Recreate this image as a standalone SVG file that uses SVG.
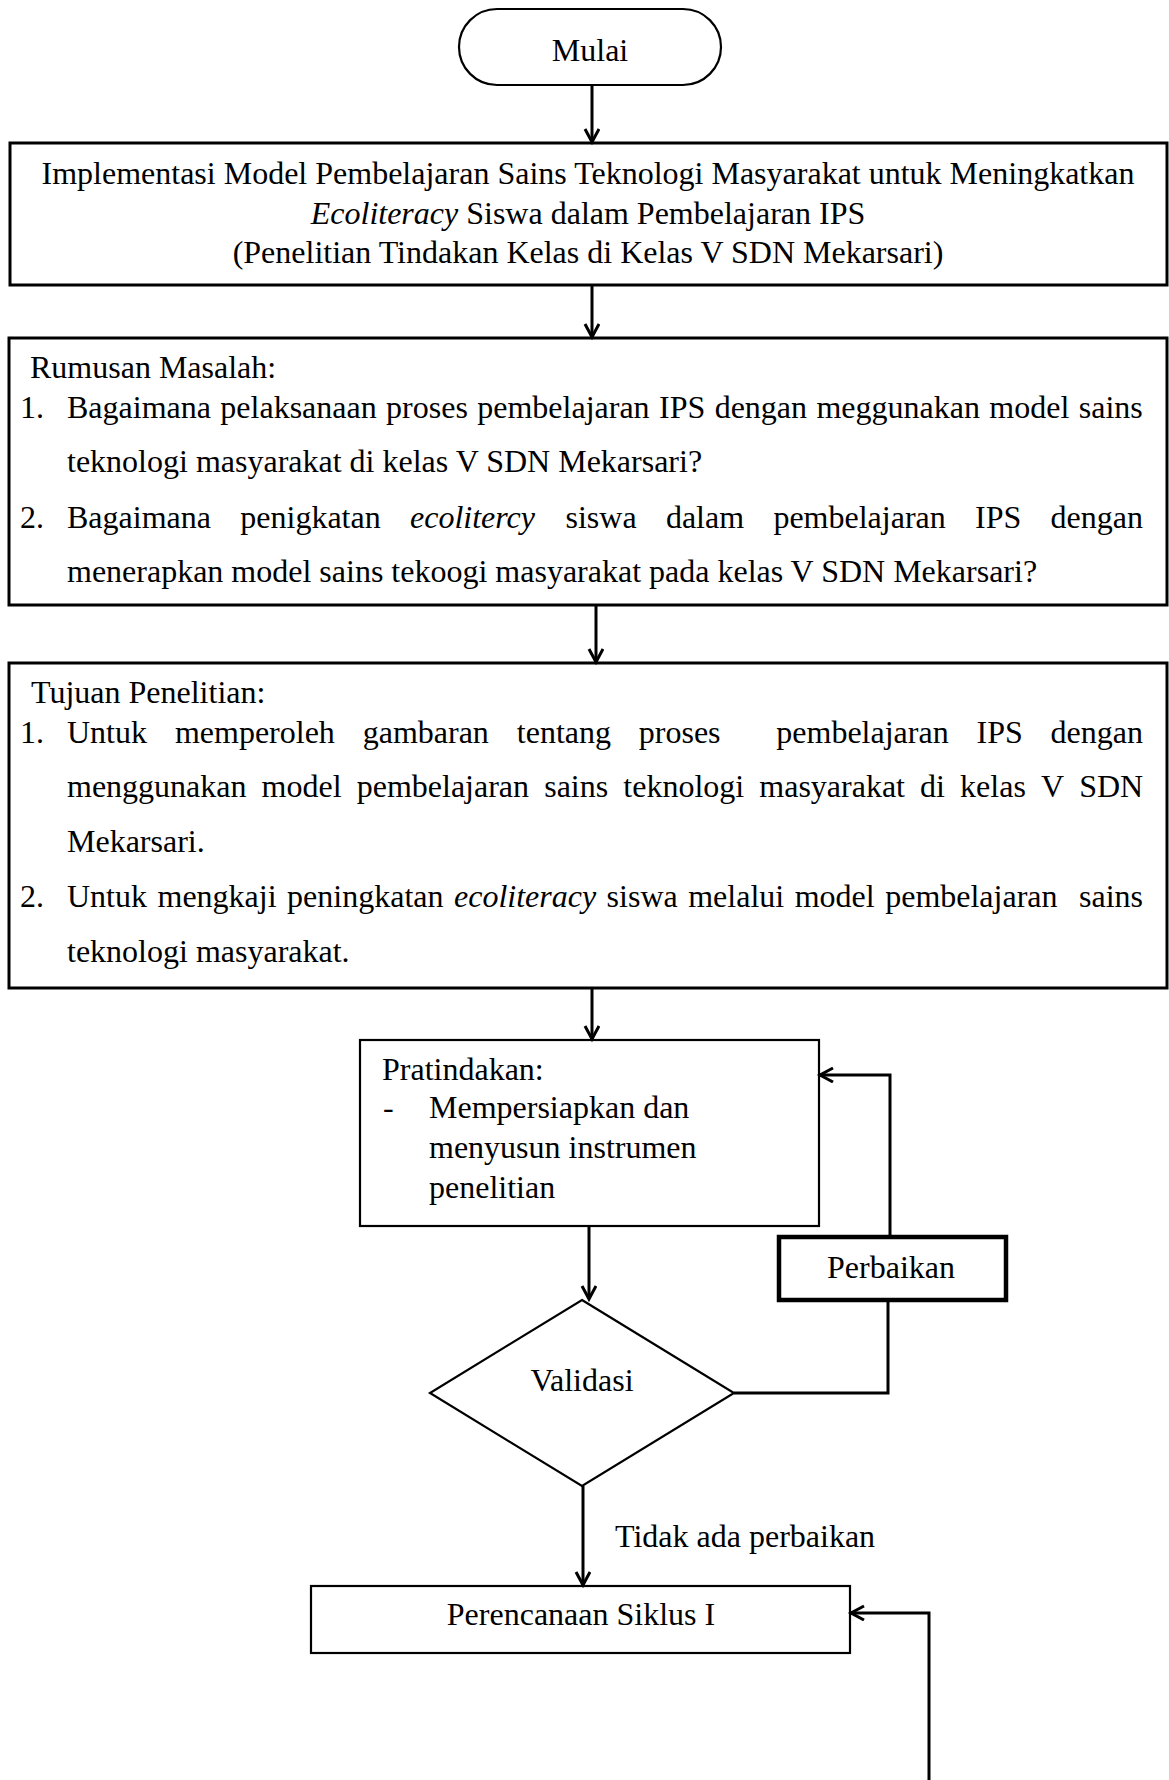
<svg xmlns="http://www.w3.org/2000/svg" width="1169" height="1780" viewBox="0 0 1169 1780">
<style>
text{font-family:"Liberation Serif","Times New Roman",serif;font-size:32px;fill:#000}
.c{text-anchor:middle}
.e{text-anchor:end}
.i{font-style:italic}
.box{fill:#fff;stroke:#000;stroke-width:3}
.thin{fill:#fff;stroke:#000;stroke-width:2.2}
.conn{fill:none;stroke:#000;stroke-width:3}
</style>
<defs>
<marker id="ah" markerUnits="userSpaceOnUse" markerWidth="20" markerHeight="20" refX="14" refY="8" orient="auto">
<path d="M1,1 L14,8 L1,15" fill="none" stroke="#000" stroke-width="3"/>
</marker>
</defs>
<rect width="1169" height="1780" fill="#fff"/>
<g id="mulai">
<rect class="thin" x="459" y="9" width="262" height="76" rx="38" ry="38"/>
<text class="c" x="590" y="61">Mulai</text>
</g>
<g id="judul">
<rect class="box" x="10" y="143" width="1157" height="142"/>
<text class="c" x="588" y="184">Implementasi Model Pembelajaran Sains Teknologi Masyarakat untuk Meningkatkan</text>
<text class="c" x="588" y="224"><tspan class="i">Ecoliteracy</tspan> Siswa dalam Pembelajaran IPS</text>
<text class="c" x="588" y="263">(Penelitian Tindakan Kelas di Kelas V SDN Mekarsari)</text>
</g>
<g id="rumusan">
<rect class="box" x="9" y="338" width="1158" height="267"/>
<text x="30" y="378">Rumusan Masalah:</text>
<text x="20" y="418">1.</text>
<text x="67" y="418" word-spacing="1.4">Bagaimana pelaksanaan proses pembelajaran IPS dengan meggunakan model sains</text>
<text x="67" y="472">teknologi masyarakat di kelas V SDN Mekarsari?</text>
<text x="20" y="528">2.</text>
<text y="528"><tspan x="67">Bagaimana</tspan><tspan x="240.3">penigkatan</tspan><tspan x="410" class="i">ecolitercy</tspan><tspan x="565.5">siswa</tspan><tspan x="665.9">dalam</tspan><tspan x="773.4">pembelajaran</tspan><tspan x="975.1">IPS</tspan><tspan x="1050.6">dengan</tspan></text>
<text x="67" y="582">menerapkan model sains tekoogi masyarakat pada kelas V SDN Mekarsari?</text>
</g>
<g id="tujuan">
<rect class="box" x="9" y="663" width="1158" height="325"/>
<text x="31" y="703">Tujuan Penelitian:</text>
<text x="20" y="743">1.</text>
<text y="743"><tspan x="67">Untuk</tspan><tspan x="174.9">memperoleh</tspan><tspan x="362.7">gambaran</tspan><tspan x="516.8">tentang</tspan><tspan x="638.8">proses</tspan><tspan x="776.3">pembelajaran</tspan><tspan x="976.6">IPS</tspan><tspan x="1050.6">dengan</tspan></text>
<text y="797"><tspan x="67">menggunakan</tspan><tspan x="261.6">model</tspan><tspan x="356.7">pembelajaran</tspan><tspan x="544.2">sains</tspan><tspan x="623.3">teknologi</tspan><tspan x="759.3">masyarakat</tspan><tspan x="920.1">di</tspan><tspan x="960.1">kelas</tspan><tspan x="1041">V</tspan><tspan x="1079.2">SDN</tspan></text>
<text x="67" y="852">Mekarsari.</text>
<text x="20" y="907">2.</text>
<text x="67" y="907" word-spacing="2.5">Untuk mengkaji peningkatan <tspan class="i">ecoliteracy</tspan> siswa melalui model pembelajaran</text>
<text class="e" x="1143" y="907">sains</text>
<text x="67" y="962">teknologi masyarakat.</text>
</g>
<g id="pratindakan">
<rect class="thin" x="360" y="1040" width="459" height="186"/>
<text x="382" y="1080">Pratindakan:</text>
<text x="383" y="1118">-</text>
<text x="429" y="1118">Mempersiapkan dan</text>
<text x="429" y="1158">menyusun instrumen</text>
<text x="429" y="1198">penelitian</text>
</g>
<g id="perbaikan">
<rect fill="#fff" stroke="#000" stroke-width="4.5" x="779" y="1237" width="227" height="63"/>
<text class="c" x="891" y="1278">Perbaikan</text>
</g>
<g id="validasi">
<polygon class="thin" points="582,1300 734,1393 582,1486 430,1393"/>
<text class="c" x="582" y="1391">Validasi</text>
</g>
<g id="perencanaan">
<rect class="thin" x="311" y="1586" width="539" height="67"/>
<text class="c" x="581" y="1625">Perencanaan Siklus I</text>
</g>
<g id="connectors">
<path class="conn" d="M592,85 V142" marker-end="url(#ah)"/>
<path class="conn" d="M592,285 V337" marker-end="url(#ah)"/>
<path class="conn" d="M596,605 V662" marker-end="url(#ah)"/>
<path class="conn" d="M592,988 V1039" marker-end="url(#ah)"/>
<path class="conn" d="M589,1226 V1299" marker-end="url(#ah)"/>
<path class="conn" d="M734,1393 H888 V1300"/>
<path class="conn" d="M890,1237 V1075 H820" marker-end="url(#ah)"/>
<path class="conn" d="M583,1486 V1585" marker-end="url(#ah)"/>
<path class="conn" d="M929,1780 V1613 H851" marker-end="url(#ah)"/>
<text x="615" y="1547">Tidak ada perbaikan</text>
</g>
</svg>
